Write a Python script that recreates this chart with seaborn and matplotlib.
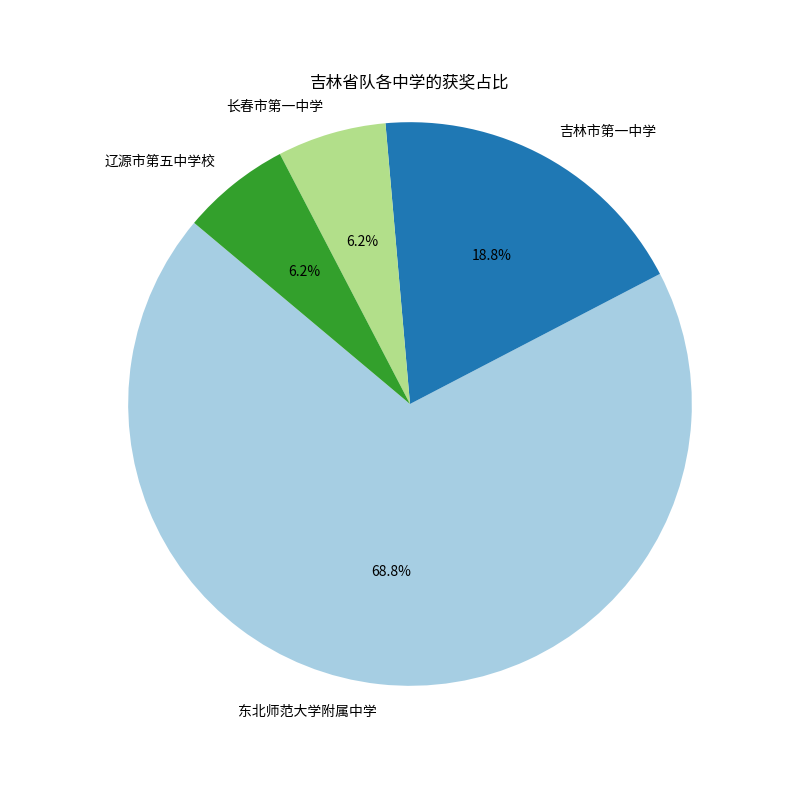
import matplotlib
matplotlib.use("Agg")
import matplotlib.pyplot as plt
import seaborn as sns

schools = ['东北师范大学附属中学', '吉林市第一中学', '长春市第一中学', '辽源市第五中学校']
awards = [11, 3, 1, 1]
title = '吉林省队各中学的获奖占比'

sns.set_theme(style='white', rc={'text.color': 'black'})
plt.rcParams['font.family'] = ['Noto Sans CJK SC', 'DejaVu Sans']

colors = sns.color_palette('Paired', len(schools))

fig, ax = plt.subplots(figsize=(8, 8), dpi=100)
ax.pie(awards, labels=schools, colors=colors, autopct='%.1f%%', startangle=140,
       wedgeprops={'linewidth': 0}, textprops={'fontsize': 10, 'color': 'black'})
ax.set_title(title, fontsize=12, color='black')
ax.axis('equal')
fig.savefig('out.png', dpi=100)
